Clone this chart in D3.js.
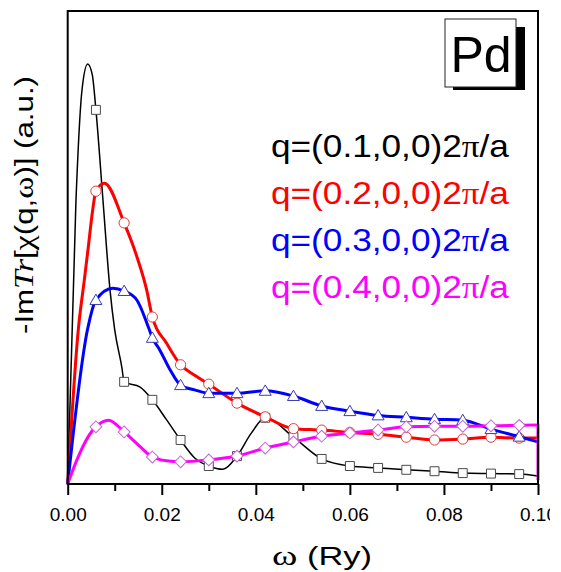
<!DOCTYPE html>
<html>
<head>
<meta charset="utf-8">
<script src="https://cdn.jsdelivr.net/npm/d3@7"></script>
<style>
  body { margin: 0; background: #fff; }
  svg { display: block; overflow: hidden; }
  text { font-family: "Liberation Sans", Arial, sans-serif; }
  .serif { font-family: "Liberation Serif", "Times New Roman", serif; }
</style>
</head>
<body>
<svg id="chart" width="550" height="572"></svg>
<script>
// values (arbitrary units, 0..10 over the frame height)
const omegaBlack = [0, 0.00176, 0.00304, 0.00425, 0.00523, 0.006, 0.0075, 0.009, 0.010, 0.01154, 0.012, 0.0154, 0.018, 0.021, 0.024, 0.027, 0.030, 0.033, 0.036, 0.039, 0.042, 0.048, 0.054, 0.060, 0.066, 0.072, 0.078, 0.084, 0.090, 0.096, 0.100];
const valBlack   = [0, 6.0, 8.33, 8.88, 8.65, 7.91, 6.0, 4.1, 3.26, 2.45, 2.16, 2.05, 1.78, 1.36, 0.93, 0.55, 0.38, 0.31, 0.59, 1.07, 1.40, 0.99, 0.53, 0.38, 0.34, 0.30, 0.27, 0.23, 0.22, 0.21, 0.17];

const omegaRed = [0, 0.00225, 0.00353, 0.00438, 0.00523, 0.006, 0.0078, 0.012, 0.0147, 0.0168, 0.018, 0.021, 0.024, 0.027, 0.030, 0.036, 0.042, 0.048, 0.054, 0.060, 0.066, 0.072, 0.078, 0.084, 0.090, 0.096, 0.100];
const valRed   = [0, 3.26, 4.31, 5.01, 5.73, 6.19, 6.36, 5.52, 4.81, 4.10, 3.53, 2.98, 2.52, 2.30, 2.11, 1.71, 1.42, 1.17, 1.14, 1.09, 1.05, 0.99, 0.93, 0.95, 0.99, 0.97, 0.97];

const omegaBlue = [0, 0.0042, 0.006, 0.0096, 0.012, 0.0147, 0.0171, 0.018, 0.0196, 0.0218, 0.024, 0.027, 0.030, 0.036, 0.042, 0.048, 0.054, 0.060, 0.066, 0.072, 0.078, 0.084, 0.090, 0.096, 0.100];
const valBlue   = [0, 3.26, 3.89, 4.14, 4.08, 3.89, 3.33, 3.09, 2.83, 2.41, 2.09, 1.99, 1.92, 1.92, 1.97, 1.86, 1.65, 1.54, 1.45, 1.41, 1.37, 1.35, 1.16, 1.0, 0.89];

const omegaMagenta = [0, 0.00225, 0.0051, 0.006, 0.0087, 0.012, 0.0154, 0.018, 0.021, 0.024, 0.030, 0.036, 0.042, 0.048, 0.054, 0.060, 0.066, 0.072, 0.078, 0.084, 0.090, 0.096, 0.100, 0.100];
const valMagenta   = [0, 0.58, 1.11, 1.21, 1.35, 1.10, 0.79, 0.57, 0.49, 0.47, 0.51, 0.59, 0.76, 0.89, 1.01, 1.08, 1.14, 1.21, 1.22, 1.22, 1.23, 1.24, 1.25, 0.08];

const markerOmega = [0.006, 0.012, 0.018, 0.024, 0.030, 0.036, 0.042, 0.048, 0.054, 0.060, 0.066, 0.072, 0.078, 0.084, 0.090, 0.096];

const seriesNames = ["q=(0.1,0,0)2", "q=(0.2,0,0)2", "q=(0.3,0,0)2", "q=(0.4,0,0)2"];
const xTicksMajor = [0, 0.02, 0.04, 0.06, 0.08, 0.10];
const xTicksMinor = [0.01, 0.03, 0.05, 0.07, 0.09];

const series = [
    {name: seriesNames[0], x: omegaBlack, y: valBlack, color: "#000000", mark: "#4a4a4a", width: 1.5, shape: "square"},
    {name: seriesNames[1], x: omegaRed, y: valRed, color: "#ff0000", mark: "#e03c3c", width: 3, shape: "circle"},
    {name: seriesNames[2], x: omegaBlue, y: valBlue, color: "#0000ff", mark: "#3a3ab8", width: 3, shape: "triangle"},
    {name: seriesNames[3], x: omegaMagenta, y: valMagenta, color: "#ff00ff", mark: "#c860d8", width: 3, shape: "diamond"}
];

const svg = d3.select("#chart");
const plotLeft = 67.7, plotRight = 538, plotTop = 11, plotBottom = 484;

const x = d3.scaleLinear().domain([0, 0.1]).range([plotLeft, plotRight]);
const y = d3.scaleLinear().domain([0, 10]).range([plotBottom, plotTop]);

const plot = svg.append("g");

const line = d3.line()
    .x(d => x(d[0]))
    .y(d => y(d[1]))
    .curve(d3.curveMonotoneX);

const symbols = {
    square: d3.symbol().type(d3.symbolSquare).size(80),
    circle: d3.symbol().type(d3.symbolCircle).size(82),
    triangle: d3.symbol().type(d3.symbolTriangle).size(62),
    diamond: d3.symbol().type(d3.symbolSquare).size(70)   // rotated below
};

series.forEach(s => {
    let pts = s.x.map((v, i) => [v, s.y[i]]);
    // the last magenta point shares omega with the one before: finish it with a straight drop
    let smooth = pts, tail = null;
    if (pts.length > 1 && pts[pts.length - 1][0] === pts[pts.length - 2][0]) {
        smooth = pts.slice(0, -1);
        tail = pts[pts.length - 1];
    }
    let d = line(smooth);
    if (tail) d += "L" + x(tail[0]) + "," + y(tail[1]);

    plot.append("path")
        .attr("d", d)
        .attr("fill", "none")
        .attr("stroke", s.color)
        .attr("stroke-width", s.width)
        .attr("stroke-linejoin", "round");

    let marks = markerOmega.map(m => pts.find(p => Math.abs(p[0] - m) < 1e-6)).filter(p => p);
    plot.append("g").selectAll("path").data(marks).join("path")
        .attr("d", symbols[s.shape])
        .attr("transform", p => {
            let t = "translate(" + x(p[0]) + "," + (y(p[1]) + (s.shape === "triangle" ? 1 : 0)) + ")";
            return s.shape === "diamond" ? t + " rotate(45)" : t;
        })
        .attr("fill", "#fff")
        .attr("stroke", s.mark)
        .attr("stroke-width", 1);
});

// frame
svg.append("rect")
    .attr("x", plotLeft).attr("y", plotTop)
    .attr("width", plotRight - plotLeft).attr("height", plotBottom - plotTop)
    .attr("fill", "none")
    .attr("stroke", "#000")
    .attr("stroke-width", 2);

// bottom axis
let axisMajor = svg.append("g")
    .attr("transform", "translate(0," + plotBottom + ")")
    .call(d3.axisBottom(x).tickValues(xTicksMajor).tickSize(11).tickFormat(d3.format(".2f")));
axisMajor.select(".domain").remove();
axisMajor.selectAll(".tick line").attr("stroke-width", 2);
axisMajor.selectAll(".tick text")
    .attr("y", 37).attr("dy", 0)
    .attr("font-size", 19)
    .attr("font-family", "Liberation Sans, Arial, sans-serif")
    .attr("fill", "#000");

let axisMinor = svg.append("g")
    .attr("transform", "translate(0," + plotBottom + ")")
    .call(d3.axisBottom(x).tickValues(xTicksMinor).tickSize(7).tickFormat(""));
axisMinor.select(".domain").remove();
axisMinor.selectAll(".tick line").attr("stroke-width", 2);

// the original lettering is a bit wider than the local fonts: stretch along the text
function stretchTo(sel, target) {
    let len = sel.node().getComputedTextLength();
    return len > 0 ? target / len : 1;
}

// axis titles
let xt = svg.append("text")
    .attr("text-anchor", "middle")
    .attr("font-size", 25);
xt.append("tspan").attr("class", "serif").attr("font-size", 28).text("ω");
xt.append("tspan").text(" (Ry)");
xt.attr("transform", "translate(322,565) scale(" + stretchTo(xt, 100) + ",1)");

let yt = svg.append("text")
    .attr("text-anchor", "middle")
    .attr("font-size", 25);
yt.append("tspan").text("-Im");
yt.append("tspan").attr("class", "serif").attr("font-style", "italic").attr("font-size", 27).text("Tr");
yt.append("tspan").text("[");
yt.append("tspan").attr("class", "serif").attr("font-size", 27).text("χ");
yt.append("tspan").text("(q,");
yt.append("tspan").attr("class", "serif").attr("font-size", 27).text("ω");
yt.append("tspan").text(")] (a.u.)");
yt.attr("transform", "translate(33,205) rotate(-90) scale(" + stretchTo(yt, 258) + ",1)");

// legend
let legend = svg.append("g");
series.forEach((s, i) => {
    let t = legend.append("text")
        .attr("font-size", 31)
        .attr("fill", s.color);
    t.append("tspan").text(s.name);
    t.append("tspan").attr("class", "serif").text("π");
    t.append("tspan").text("/a");
    t.attr("transform", "translate(271," + (157 + 47 * i) + ") scale(" + stretchTo(t, 238) + ",1)");
});

// Pd label box with shadow
svg.append("rect")
    .attr("x", 453).attr("y", 27).attr("width", 72).attr("height", 63)
    .attr("fill", "#000");
svg.append("rect")
    .attr("x", 445).attr("y", 19).attr("width", 71).attr("height", 68)
    .attr("fill", "#fff").attr("stroke", "#222").attr("stroke-width", 1);
svg.append("text")
    .attr("x", 481).attr("y", 72)
    .attr("text-anchor", "middle")
    .attr("font-size", 50)
    .text("Pd");
</script>
</body>
</html>
